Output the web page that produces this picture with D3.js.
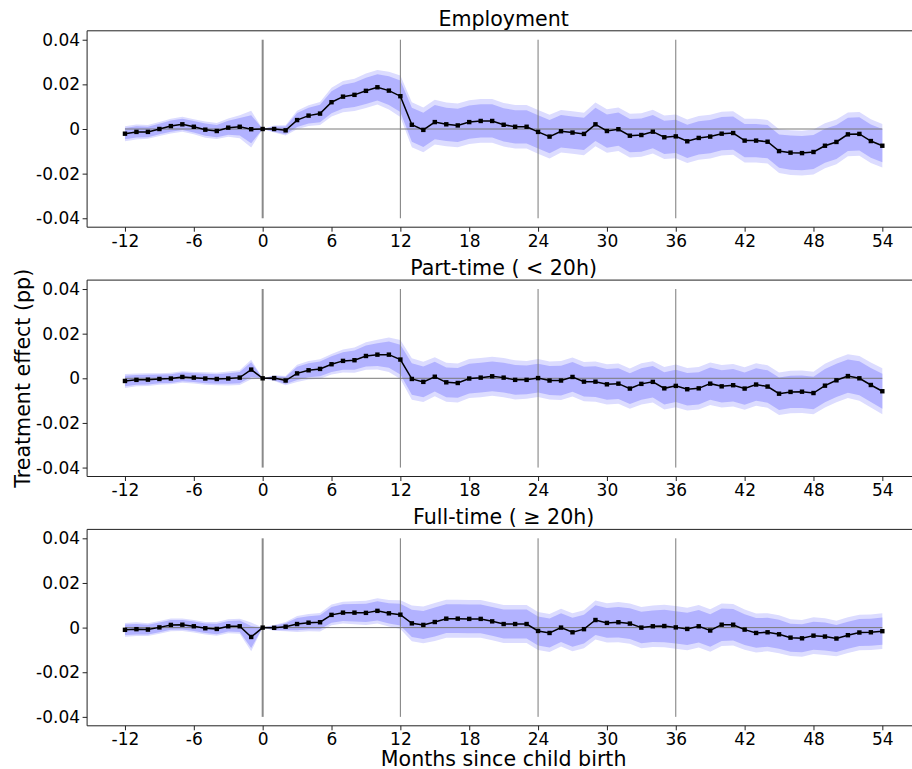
<!DOCTYPE html>
<html>
<head>
<meta charset="utf-8">
<script src="https://cdn.jsdelivr.net/npm/d3@7"></script>
<style>
  body { margin: 0; background: #fff; }
  text { font-family: "DejaVu Sans", sans-serif; fill: #000; }
</style>
</head>
<body>
<svg id="chart" width="912" height="769"></svg>
<script>
// Event-study months relative to child birth
const months = d3.range(-12, 55);
const xTicks = d3.range(-12, 55, 6);
const yTicks = [-0.04, -0.02, 0, 0.02, 0.04];
const refLines = [12, 24, 36];
const titles = ["Employment", "Part-time ( < 20h)", "Full-time ( \u2265 20h)"];

// Point estimates and standard errors, months -12 .. 54
const empEst = [
  -0.0021, -0.0013, -0.0013, 0.0000, 0.0013, 0.0021, 0.0010, -0.0003, -0.0009, 0.0006, 0.0010, -0.0001,
  0.0000, 0.0000, -0.0006, 0.0040, 0.0060, 0.0069, 0.0120, 0.0145, 0.0153, 0.0171, 0.0187, 0.0172, 0.0147,
  0.0019, -0.0004, 0.0031, 0.0021, 0.0016, 0.0031, 0.0036, 0.0036, 0.0019, 0.0010, 0.0010, -0.0013,
  -0.0034, -0.0010, -0.0016, -0.0022, 0.0021, -0.0009, -0.0001, -0.0030, -0.0027, -0.0012, -0.0037, -0.0033,
  -0.0055, -0.0040, -0.0034, -0.0021, -0.0018, -0.0052, -0.0052, -0.0057, -0.0099, -0.0106, -0.0108, -0.0103,
  -0.0075, -0.0058, -0.0024, -0.0022, -0.0054, -0.0075
];
const empSe = [
  0.0013, 0.0013, 0.0012, 0.0012, 0.0013, 0.0013, 0.0013, 0.0014, 0.0014, 0.0016, 0.0020, 0.0032,
  0.0000, 0.0006, 0.0009, 0.0016, 0.0018, 0.0020, 0.0025, 0.0027, 0.0028, 0.0030, 0.0030, 0.0033, 0.0036,
  0.0039, 0.0039, 0.0039, 0.0038, 0.0038, 0.0038, 0.0038, 0.0038, 0.0038, 0.0038, 0.0038, 0.0038,
  0.0038, 0.0037, 0.0037, 0.0037, 0.0038, 0.0038, 0.0038, 0.0038, 0.0038, 0.0038, 0.0038, 0.0038,
  0.0038, 0.0038, 0.0038, 0.0038, 0.0038, 0.0038, 0.0038, 0.0038, 0.0038, 0.0039, 0.0039, 0.0039,
  0.0039, 0.0039, 0.0038, 0.0038, 0.0038, 0.0038
];
const ptEst = [
  -0.0012, -0.0007, -0.0006, -0.0003, -0.0001, 0.0006, 0.0003, -0.0001, -0.0003, -0.0001, 0.0003, 0.0039,
  0.0000, 0.0001, -0.0010, 0.0022, 0.0036, 0.0042, 0.0063, 0.0078, 0.0081, 0.0100, 0.0106, 0.0106, 0.0084,
  -0.0003, -0.0016, 0.0007, -0.0018, -0.0021, -0.0001, 0.0003, 0.0009, 0.0003, -0.0007, -0.0007, 0.0001,
  -0.0010, -0.0010, 0.0006, -0.0015, -0.0015, -0.0027, -0.0024, -0.0046, -0.0025, -0.0016, -0.0045, -0.0034,
  -0.0049, -0.0045, -0.0024, -0.0036, -0.0031, -0.0046, -0.0028, -0.0037, -0.0069, -0.0061, -0.0060, -0.0066,
  -0.0033, -0.0009, 0.0010, 0.0000, -0.0030, -0.0058
];
const ptSe = [
  0.0012, 0.0011, 0.0011, 0.0010, 0.0010, 0.0010, 0.0010, 0.0011, 0.0011, 0.0012, 0.0013, 0.0017,
  0.0000, 0.0005, 0.0008, 0.0015, 0.0016, 0.0017, 0.0018, 0.0020, 0.0022, 0.0024, 0.0026, 0.0030, 0.0034,
  0.0036, 0.0035, 0.0034, 0.0034, 0.0034, 0.0034, 0.0034, 0.0034, 0.0034, 0.0034, 0.0033, 0.0033,
  0.0033, 0.0034, 0.0034, 0.0034, 0.0035, 0.0035, 0.0035, 0.0035, 0.0036, 0.0036, 0.0037, 0.0037,
  0.0037, 0.0037, 0.0037, 0.0037, 0.0037, 0.0037, 0.0037, 0.0037, 0.0037, 0.0037, 0.0037, 0.0037,
  0.0038, 0.0038, 0.0038, 0.0039, 0.0039, 0.0040
];
const ftEst = [
  -0.0010, -0.0007, -0.0009, 0.0001, 0.0012, 0.0013, 0.0006, -0.0003, -0.0006, 0.0006, 0.0006, -0.0042,
  0.0000, -0.0001, 0.0004, 0.0016, 0.0022, 0.0024, 0.0057, 0.0067, 0.0067, 0.0066, 0.0075, 0.0064, 0.0058,
  0.0019, 0.0012, 0.0025, 0.0040, 0.0040, 0.0039, 0.0039, 0.0028, 0.0016, 0.0016, 0.0016, -0.0015,
  -0.0024, 0.0000, -0.0021, -0.0007, 0.0034, 0.0021, 0.0024, 0.0018, 0.0000, 0.0006, 0.0007, 0.0001,
  -0.0006, 0.0006, -0.0013, 0.0013, 0.0013, -0.0009, -0.0024, -0.0021, -0.0030, -0.0045, -0.0048, -0.0036,
  -0.0040, -0.0049, -0.0034, -0.0022, -0.0021, -0.0016
];
const ftSe = [
  0.0012, 0.0012, 0.0011, 0.0011, 0.0011, 0.0011, 0.0011, 0.0011, 0.0012, 0.0012, 0.0013, 0.0025,
  0.0000, 0.0005, 0.0008, 0.0014, 0.0015, 0.0016, 0.0018, 0.0019, 0.0020, 0.0021, 0.0022, 0.0023, 0.0025,
  0.0031, 0.0032, 0.0033, 0.0033, 0.0033, 0.0033, 0.0033, 0.0033, 0.0033, 0.0033, 0.0033, 0.0033,
  0.0033, 0.0033, 0.0033, 0.0033, 0.0034, 0.0034, 0.0035, 0.0035, 0.0036, 0.0036, 0.0037, 0.0037,
  0.0037, 0.0037, 0.0037, 0.0037, 0.0036, 0.0035, 0.0034, 0.0033, 0.0033, 0.0032, 0.0032, 0.0032,
  0.0032, 0.0031, 0.0031, 0.0031, 0.0031, 0.0031
];

// Critical values for the two confidence bands
const zInner = 1.96;
const zOuter = 2.576;

const panels = [
  { title: titles[0], est: empEst, se: empSe },
  { title: titles[1], est: ptEst, se: ptSe },
  { title: titles[2], est: ftEst, se: ftSe }
];

const svg = d3.select("#chart");
const left = 87.1, right = 920.2;
const panelTops = [30.8, 280.1, 529.4];
const panelH = 196.4;
const tickFont = 17, labelFont = 20.6;

const x = d3.scaleLinear().domain([-15.3, 57.3]).range([left, right]);
const fmt = v => v === 0 ? "0" : (v < 0 ? "-" : "") + d3.format(".2f")(Math.abs(v));
const fmtX = v => (v < 0 ? "-" : "") + Math.abs(v);

panels.forEach((p, i) => {
  const top = panelTops[i];
  const y = d3.scaleLinear().domain([-0.044, 0.044]).range([top + panelH, top]);
  const g = svg.append("g");
  const rows = months.map((m, k) => ({ m, est: p.est[k], se: p.se[k] }));

  const band = z => d3.area()
    .x(d => x(d.m))
    .y0(d => y(d.est - z * d.se))
    .y1(d => y(d.est + z * d.se));

  g.append("path").datum(rows).attr("d", band(zOuter)).attr("fill", "#dcdcff");
  g.append("path").datum(rows).attr("d", band(zInner)).attr("fill", "#b2b2ff");

  // zero reference line
  g.append("line")
    .attr("x1", x(months[0])).attr("x2", x(months[months.length - 1]))
    .attr("y1", y(0)).attr("y2", y(0))
    .attr("stroke", "#7a7a7a").attr("stroke-width", 1);

  // yearly markers and birth month
  refLines.forEach(r => {
    g.append("line")
      .attr("x1", x(r)).attr("x2", x(r))
      .attr("y1", y(0.04)).attr("y2", y(-0.04))
      .attr("stroke", "#7a7a7a").attr("stroke-width", 1);
  });
  g.append("line")
    .attr("x1", x(0)).attr("x2", x(0))
    .attr("y1", y(0.04)).attr("y2", y(-0.04))
    .attr("stroke", "#8a8a8a").attr("stroke-width", 2);

  // estimate path with square markers
  g.append("path").datum(rows)
    .attr("d", d3.line().x(d => x(d.m)).y(d => y(d.est)))
    .attr("fill", "none").attr("stroke", "#000").attr("stroke-width", 1.5);
  const ms = 4.4;
  g.selectAll("rect.pt").data(rows).join("rect")
    .attr("class", "pt")
    .attr("x", d => x(d.m) - ms / 2).attr("y", d => y(d.est) - ms / 2)
    .attr("width", ms).attr("height", ms).attr("fill", "#000");

  // axes
  const ya = g.append("g").attr("transform", `translate(${left},0)`)
    .call(d3.axisLeft(y).tickValues(yTicks).tickFormat(fmt).tickSize(4.5).tickPadding(2.5));
  ya.select(".domain").remove();
  ya.selectAll("text").attr("font-size", tickFont).style("font-family", "DejaVu Sans, sans-serif");
  ya.selectAll("line").attr("stroke", "#222");

  const xa = g.append("g").attr("transform", `translate(0,${top + panelH})`)
    .call(d3.axisBottom(x).tickValues(xTicks).tickFormat(fmtX).tickSize(4.5).tickPadding(3));
  xa.select(".domain").remove();
  xa.selectAll("text").attr("font-size", tickFont).style("font-family", "DejaVu Sans, sans-serif");
  xa.selectAll("line").attr("stroke", "#222");

  // spines
  g.append("path")
    .attr("d", `M${right},${top}H${left}V${top + panelH}H${right}`)
    .attr("fill", "none").attr("stroke", "#222").attr("stroke-width", 1);

  g.append("text")
    .attr("x", (left + right) / 2).attr("y", top - 5)
    .attr("text-anchor", "middle").attr("font-size", labelFont)
    .text(p.title);
});

svg.append("text")
  .attr("x", (left + right) / 2).attr("y", 765.5)
  .attr("text-anchor", "middle").attr("font-size", labelFont)
  .text("Months since child birth");

svg.append("text")
  .attr("transform", `translate(29.5,${panelTops[1] + panelH / 2}) rotate(-90)`)
  .attr("text-anchor", "middle").attr("font-size", labelFont)
  .text("Treatment effect (pp)");
</script>
</body>
</html>
